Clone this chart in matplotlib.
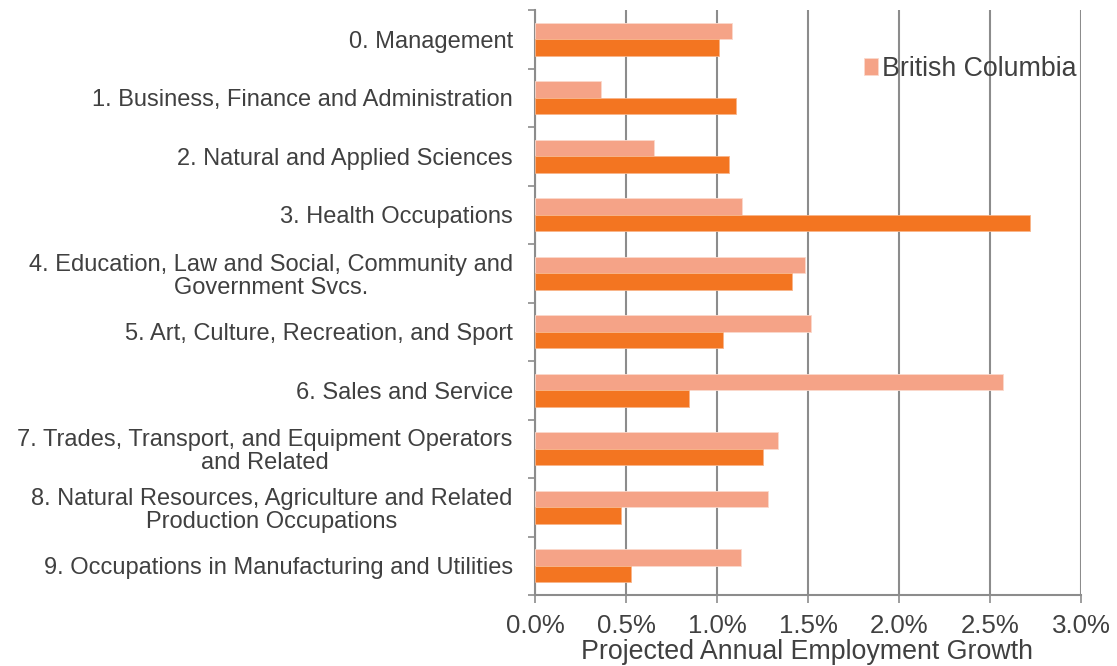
import matplotlib
matplotlib.use("Agg")
import matplotlib.pyplot as plt
import numpy as np
from matplotlib.ticker import FixedLocator, FuncFormatter

categories = [
    "0. Management",
    "1. Business, Finance and Administration",
    "2. Natural and Applied Sciences",
    "3. Health Occupations",
    "4. Education, Law and Social, Community and\nGovernment Svcs.",
    "5. Art, Culture, Recreation, and Sport",
    "6. Sales and Service",
    "7. Trades, Transport, and Equipment Operators\nand Related",
    "8. Natural Resources, Agriculture and Related\nProduction Occupations",
    "9. Occupations in Manufacturing and Utilities",
]
british_columbia = [1.084, 0.364, 0.656, 1.14, 1.481, 1.514, 2.574, 1.333, 1.28, 1.13]
other_series = [1.01, 1.107, 1.064, 2.722, 1.412, 1.035, 0.848, 1.255, 0.475, 0.529]
x_ticks = [0.0, 0.5, 1.0, 1.5, 2.0, 2.5, 3.0]

plt.rcParams['font.family'] = ['Liberation Sans', 'DejaVu Sans']
text_color = '#404040'
grid_color = '#8c8c8c'
light = '#F5A387'
dark = '#F37521'

W, H = 1117, 666
L, R, T, B = 535, 1081, 10, 595

fig = plt.figure(figsize=(W/100, H/100), dpi=100)
ax = fig.add_axes([L/W, 1 - B/H, (R-L)/W, (B-T)/H])

y = np.arange(len(categories))
h = 0.285
ax.barh(y - h/2, british_columbia, height=h, color=light, edgecolor='#fbd9cc',
        linewidth=0.6, label='British Columbia', zorder=3)
ax.barh(y + h/2, other_series, height=h, color=dark, edgecolor='#f8b58a',
        linewidth=0.6, zorder=3)

ax.set_xlim(0, 3.0)
ax.set_ylim(len(categories) - 0.5, -0.5)

ax.xaxis.set_major_locator(FixedLocator(x_ticks))
ax.xaxis.set_major_formatter(FuncFormatter(lambda v, p: f"{v:.1f}%"))
ax.grid(axis='x', color=grid_color, linewidth=1.5, zorder=0)

ax.set_yticks(y)
ax.set_yticklabels(categories, multialignment='center', linespacing=1.05)
ax.yaxis.set_minor_locator(FixedLocator(np.arange(-0.5, len(categories), 1.0)))
ax.tick_params(axis='y', which='major', length=0, pad=16, labelsize=17, labelcolor=text_color)
ax.tick_params(axis='y', which='minor', length=5, width=1.2, color=grid_color)
ax.tick_params(axis='x', which='major', length=6, width=1.2, color=grid_color,
               labelsize=18.6, labelcolor=text_color, pad=8)

for s in ['top', 'right']:
    ax.spines[s].set_visible(False)
for s in ['left', 'bottom']:
    ax.spines[s].set_color(grid_color)
    ax.spines[s].set_linewidth(1.5)

fig.text(807/W, 1 - 652/H, "Projected Annual Employment Growth",
         ha='center', va='center', fontsize=19.3, color=text_color)

leg = ax.legend(loc='center right', bbox_to_anchor=((1077-L)/(R-L), 1 - (69-T)/(B-T)),
                frameon=False, fontsize=19.3, handlelength=0.55, handleheight=0.6,
                handletextpad=0.15, borderaxespad=0, borderpad=0)
for t in leg.get_texts():
    t.set_color(text_color)

fig.savefig('out.png', dpi=100)
